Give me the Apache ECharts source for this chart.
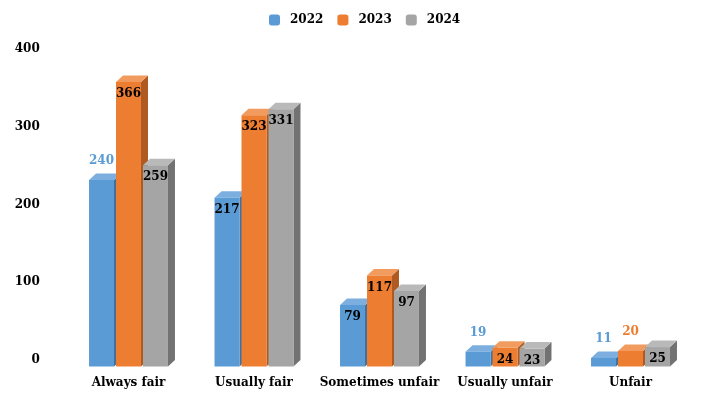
<!DOCTYPE html>
<html>
<head>
<meta charset="utf-8">
<script src="https://cdn.jsdelivr.net/npm/echarts@6/dist/echarts.min.js"></script>
<style>
  html, body { margin: 0; padding: 0; background: #fff; }
  #main { width: 705px; height: 414px; }
</style>
</head>
<body>
<div id="main"></div>
<script>
var categories = ['Always fair', 'Usually fair', 'Sometimes unfair', 'Usually unfair', 'Unfair'];
var years = ['2022', '2023', '2024'];
var values2022 = [240, 217, 79, 19, 11];
var values2023 = [366, 323, 117, 24, 20];
var values2024 = [259, 331, 97, 23, 25];
var yTicks = [0, 100, 200, 300, 400];

// labels sitting above the bar instead of inside it: [seriesIndex, categoryIndex]
var labelsAbove = [[0, 0], [0, 3], [0, 4], [1, 4]];

var font = 'DejaVu Serif';
var faces = [
  { front: '#5b9bd5', top: '#7cafe0', side: '#41719c' },
  { front: '#ed7d31', top: '#f29b5e', side: '#ae5a21' },
  { front: '#a5a5a5', top: '#b9b9b9', side: '#727272' }
];
var depthX = 7, depthY = 6.5;

function isAbove(si, ci) {
  return labelsAbove.some(function (p) { return p[0] === si && p[1] === ci; });
}

function makeRender(si) {
  return function (params, api) {
    var ci = api.value(0), val = api.value(1);
    var base = api.coord([ci, 0]);
    var top = api.coord([ci, val]);
    var band = api.size([1, 0])[0];
    var w = band * 0.199, pitch = band * 0.215;
    var x0 = base[0] + (si - 1) * pitch - w / 2;
    var x1 = x0 + w;
    var yb = base[1], yt = top[1];
    var c = faces[si];
    var above = isAbove(si, ci);
    return {
      type: 'group',
      children: [
        { type: 'polygon', shape: { points: [[x1, yt], [x1 + depthX, yt - depthY], [x1 + depthX, yb - depthY], [x1, yb]] }, style: { fill: c.side } },
        { type: 'polygon', shape: { points: [[x0, yt], [x1, yt], [x1 + depthX, yt - depthY], [x0 + depthX, yt - depthY]] }, style: { fill: c.top } },
        { type: 'rect', shape: { x: x0, y: yt, width: w, height: yb - yt }, style: { fill: c.front } },
        {
          type: 'text',
          style: {
            text: String(val),
            x: (x0 + x1) / 2,
            y: above ? yt - 19 : yt + 12,
            align: 'center',
            verticalAlign: 'middle',
            fill: above ? c.front : '#000',
            font: 'bold 12px "' + font + '"'
          }
        }
      ]
    };
  };
}

var seriesValues = [values2022, values2023, values2024];

var chart = echarts.init(document.getElementById('main'));
var option = {
  animation: false,
  color: faces.map(function (f) { return f.front; }),
  legend: {
    data: years,
    left: 264,
    top: 9,
    itemWidth: 11,
    itemHeight: 11,
    itemGap: 14,
    icon: 'roundRect',
    textStyle: { fontFamily: font, fontWeight: 'bold', fontSize: 12, color: '#000', padding: [0, 0, 0, 5] }
  },
  grid: { left: 65.75, right: 11.75, top: 55.5, bottom: 47.5 },
  xAxis: {
    type: 'category',
    data: categories,
    axisLine: { show: false },
    axisTick: { show: false },
    axisLabel: { interval: 0, margin: 10, fontFamily: font, fontWeight: 'bold', fontSize: 12, color: '#000' }
  },
  yAxis: {
    type: 'value',
    min: yTicks[0],
    max: yTicks[yTicks.length - 1],
    interval: 100,
    splitLine: { show: false },
    axisLine: { show: false },
    axisTick: { show: false },
    axisLabel: { margin: 26, verticalAlign: 'bottom', lineHeight: 13, fontFamily: font, fontWeight: 'bold', fontSize: 12, color: '#000' }
  },
  series: years.map(function (y, si) {
    return {
      name: y,
      type: 'custom',
      renderItem: makeRender(si),
      data: seriesValues[si].map(function (v, i) { return [i, v]; })
    };
  })
};
chart.setOption(option);
</script>
</body>
</html>
